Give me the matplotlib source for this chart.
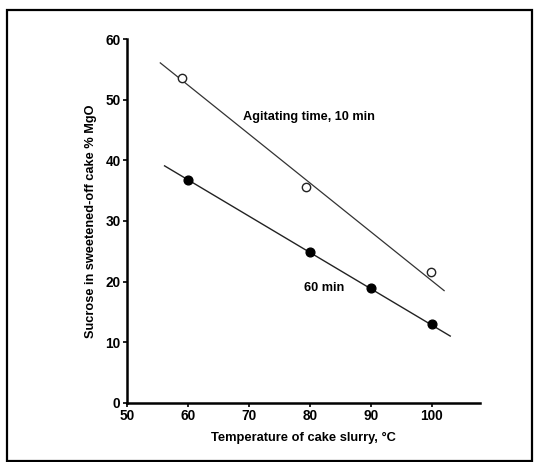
import matplotlib
matplotlib.use("Agg")
import matplotlib.pyplot as plt
from matplotlib.patches import Rectangle

plt.rcParams['font.family'] = ['Liberation Sans', 'DejaVu Sans']

# sucrose left in the sweetened-off cake vs slurry temperature
temp_10 = [59, 79.3, 99.9]
sucrose_10 = [53.6, 35.6, 21.6]
fit_temp_10 = [55.5, 102]
fit_sucrose_10 = [56.1, 18.5]

temp_60 = [60, 80, 90, 100]
sucrose_60 = [36.8, 24.9, 19.0, 13.0]
fit_temp_60 = [56.2, 103]
fit_sucrose_60 = [39.1, 11.0]

xticks = [50, 60, 70, 80, 90, 100]
yticks = [0, 10, 20, 30, 40, 50, 60]

fig = plt.figure(figsize=(5.34, 4.62), dpi=100)
ax = fig.add_axes([0.2373, 0.1284, 0.6607, 0.7866])

ax.plot(fit_temp_10, fit_sucrose_10, color='#333333', lw=0.9)
ax.plot(fit_temp_60, fit_sucrose_60, color='#222222', lw=1.0)
ax.plot(temp_10, sucrose_10, 'o', ms=6, mfc='white', mec='#222222', mew=1.0)
ax.plot(temp_60, sucrose_60, 'o', ms=6.3, mfc='black', mec='black')

ax.text(69.0, 47.1, 'Agitating time, 10 min', fontsize=9.2, fontweight='bold',
        va='center', ha='left')
ax.text(79.0, 19.0, '60 min', fontsize=9.2, fontweight='bold', va='center', ha='left')

ax.set_xlim(50, 107.8)
ax.set_ylim(0, 60)
ax.set_xticks(xticks)
ax.set_yticks(yticks)
ax.spines['top'].set_visible(False)
ax.spines['right'].set_visible(False)
for s in ('left', 'bottom'):
    ax.spines[s].set_linewidth(1.8)
ax.tick_params(axis='both', direction='out', length=3, width=1.2, pad=1.5,
               labelsize=9.8)
for lab in ax.get_xticklabels() + ax.get_yticklabels():
    lab.set_fontweight('bold')

ax.set_xlabel('Temperature of cake slurry, °C', fontsize=9.3, fontweight='bold',
              labelpad=6.5)
ax.set_ylabel('Sucrose in sweetened-off cake % MgO', fontsize=9.2,
              fontweight='bold', labelpad=6)

# outer frame around the whole figure
fig.patches.append(Rectangle((7 / 534, 1 - 461 / 462), 525 / 534, 451 / 462,
                             transform=fig.transFigure, fill=False,
                             edgecolor='black', lw=1.6))

fig.savefig('out.png', dpi=100)
